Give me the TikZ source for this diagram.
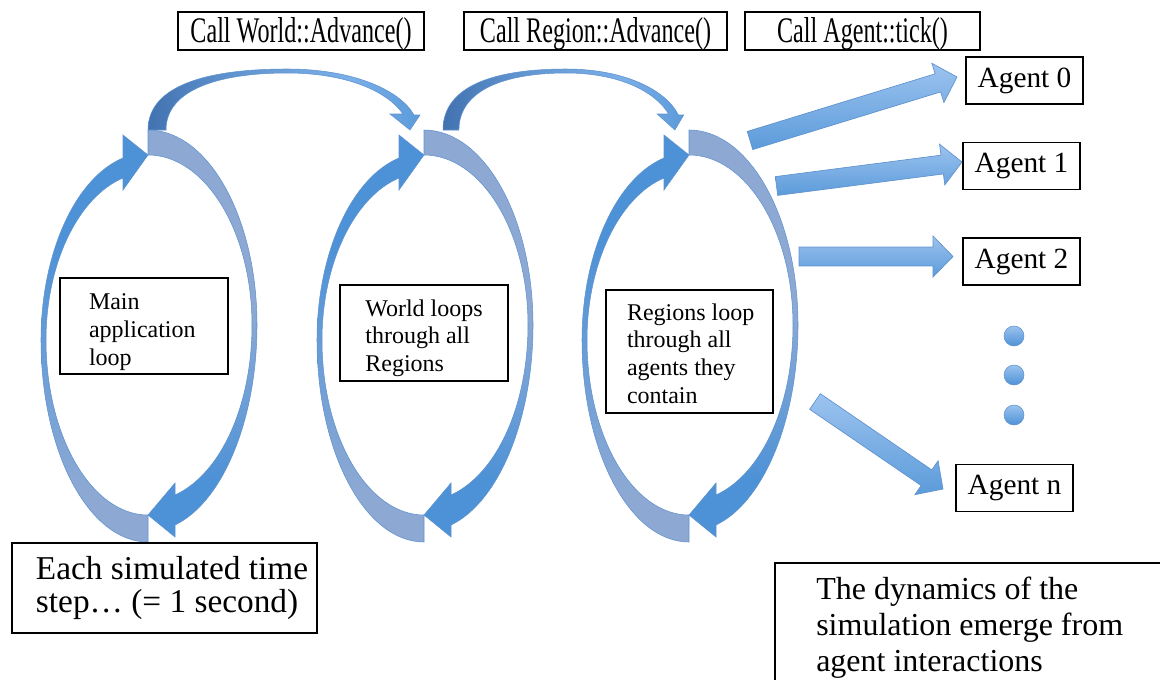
\documentclass[tikz,border=0pt]{standalone}
\usepackage{fontspec}
\usepackage{graphicx}
\setmainfont{Liberation Serif}
\usetikzlibrary{calc}

\definecolor{loopgray}{HTML}{8DA9D3}
\definecolor{loopmid}{HTML}{6E9FD6}
\definecolor{loopblue}{HTML}{4D91D6}
\definecolor{arcdark}{HTML}{4272B0}
\definecolor{arcmid}{HTML}{5F93CF}
\definecolor{arclight}{HTML}{7BAFE8}
\definecolor{archead}{HTML}{5C9BDB}
\definecolor{barrowtop}{HTML}{9CC3EF}
\definecolor{barrowbot}{HTML}{5C9BDA}
\definecolor{shapeline}{HTML}{5F92CE}

% left half of a loop: grey tail at the bottom, blue head at the top
\pgfdeclareverticalshading{loopleftshade}{100bp}{color(0bp)=(loopgray); color(25bp)=(loopgray); color(31bp)=(loopgray); color(46bp)=(loopmid); color(62bp)=(loopblue); color(100bp)=(loopblue)}
% right half of a loop: grey tail at the top, blue head at the bottom
\pgfdeclareverticalshading{looprightshade}{100bp}{color(0bp)=(loopblue); color(25bp)=(loopblue); color(32bp)=(loopblue); color(42bp)=(loopmid); color(53bp)=(loopgray); color(75bp)=(loopgray); color(100bp)=(loopgray)}
% arc that hops from one loop to the next
\pgfdeclarehorizontalshading{arcshade}{100bp}{color(0bp)=(arcdark); color(25bp)=(arcdark); color(40bp)=(arcmid); color(62bp)=(arclight); color(75bp)=(archead); color(100bp)=(archead)}

% a paragraph of fixed width whose lines start after an indent
\newcommand\indentedtext[3]{\parbox{#1}{\leftskip=#2\rightskip=0pt plus 1fil\parfillskip=0pt plus 1fil\relax #3}}
% move text down without changing the size it reports
\newcommand\lowered[2]{\raisebox{-#1}[\height][\depth]{#2}}

\tikzset{
  frame/.style={draw=black, line width=0.9pt, rectangle, inner sep=0pt},
  calllabel/.style={frame, minimum height=28.5pt, font=\fontsize{27}{27}\selectfont},
  agentbox/.style={frame, minimum width=87.75pt, minimum height=35.25pt, font=\fontsize{22}{26}\selectfont},
  loopbox/.style={frame, font=\fontsize{18}{20.8}\selectfont},
  notebox/.style={align=left, inner sep=0pt, font=\fontsize{24}{27}\selectfont},
  loopl/.style={shading=loopleftshade, draw=shapeline, line width=0.4pt},
  loopr/.style={shading=looprightshade, draw=shapeline, line width=0.4pt},
  arcarrow/.style={shading=arcshade, draw=shapeline, line width=0.4pt},
  barrow/.style={top color=barrowtop, bottom color=barrowbot, draw=shapeline, line width=0.5pt},
  dot/.style={circle, inner sep=0pt, minimum size=15pt, top color=barrowtop, bottom color=loopblue, draw=shapeline, line width=0.4pt},
  looparrows/.pic={
    % rising half, left side
    \path[loopl] (0,387) .. controls (-59,387) and (-107,297) .. (-107,185)
       .. controls (-107,99) and (-73,23) .. (-25,3)
       -- (-25,-20) -- (0,0) -- (-25,35) -- (-25,23)
       .. controls (-70,42) and (-102,109) .. (-102,185)
       .. controls (-102,282) and (-56,360) .. (0,360) -- cycle;
    % falling half, right side
    \path[loopr] (0,-25) .. controls (60,-25) and (109,62) .. (109,170)
       .. controls (109,264) and (75,347) .. (27,370)
       -- (27,382) -- (0,360) -- (27,328) -- (27,340)
       .. controls (73,319) and (104,250) .. (104,170)
       .. controls (104,76) and (57,0) .. (0,0) -- cycle;
  },
  hoparrow/.pic={
    \path[arcarrow] (0,0) .. controls (0,-45) and (60,-61) .. (139,-61)
       .. controls (205,-61) and (252,-40) .. (266,-15)
       -- (272,-15) -- (262,0) -- (242,-16) -- (255,-16)
       .. controls (240,-38) and (200,-57) .. (139,-57)
       .. controls (70,-57) and (18,-40) .. (18,0) -- cycle;
  }
}

% straight block arrow: #1 name, #2 tail, #3 tip
\newcommand\blockarrow[3]{%
  \coordinate (#1-h) at ($(#3)!15pt!(#2)$);
  \path[barrow] ($(#2)!7.1pt!90:(#3)$) -- ($(#1-h)!7.1pt!-90:(#2)$)
    -- ($(#1-h)!15.4pt!-90:(#2)$) -- (#3) -- ($(#1-h)!15.4pt!90:(#2)$)
    -- ($(#1-h)!7.1pt!90:(#2)$) -- ($(#2)!7.1pt!-90:(#3)$) -- cycle;}

\begin{document}
\begin{tikzpicture}[x=0.75pt,y=-0.75pt]
\useasboundingbox (0,0) rectangle (1160,679);
\clip (0,0) rectangle (1160,679);

% call labels
\node[calllabel, minimum width=184.5pt] (cw) at (301,31) {\lowered{2pt}{\scalebox{0.67}[1]{Call World::Advance()}}};
\node[calllabel, minimum width=197.25pt] (cr) at (595.5,31) {\lowered{2pt}{\scalebox{0.67}[1]{Call Region::Advance()}}};
\node[calllabel, minimum width=176.25pt] (ca) at (862.5,31) {\lowered{2pt}{\scalebox{0.67}[1]{Call Agent::tick()}}};

% hops between loops
\coordinate (hop1) at (148,130);
\coordinate (hop2) at (443,130);
\pic at (hop1) {hoparrow};
\pic[xscale=0.885] at (hop2) {hoparrow};

% the three loops
\coordinate (mainloop) at (148,155);
\coordinate (worldloop) at (424,155);
\coordinate (regionloop) at (689,155);
\pic at (mainloop) {looparrows};
\pic at (worldloop) {looparrows};
\pic at (regionloop) {looparrows};

\node[loopbox, minimum width=126pt, minimum height=72pt] (mainbox) at (144,326)
  {\lowered{4.5pt}{\indentedtext{126pt}{21.75pt}{Main\\application\\loop}}};
\node[loopbox, minimum width=126pt, minimum height=72pt] (worldbox) at (424,333)
  {\lowered{3.8pt}{\indentedtext{126pt}{19pt}{World loops\\through all\\Regions}}};
\node[loopbox, minimum width=125.25pt, minimum height=92.25pt] (regionbox) at (689.5,351.5)
  {\lowered{1.5pt}{\indentedtext{125.25pt}{15.75pt}{Regions loop\\through all\\agents they\\contain}}};

% agents
\node[agentbox] (a0) at (1024.5,80.5) {Agent 0};
\node[agentbox] (a1) at (1021.5,166) {Agent 1};
\node[agentbox] (a2) at (1021.5,261.5) {Agent 2};
\node[agentbox] (an) at (1014.5,488) {Agent n};

\node[dot] (d1) at (1014,336) {};
\node[dot] (d2) at (1014,375) {};
\node[dot] (d3) at (1014,415) {};

% ticks sent from the region loop to each agent
\coordinate (t0) at (750,140.5);  \coordinate (p0) at (957,77);
\coordinate (t1) at (776.5,186);  \coordinate (p1) at (962,162);
\coordinate (t2) at (799,256.5);  \coordinate (p2) at (953,256.5);
\coordinate (tn) at (815,401.5);  \coordinate (pn) at (943,489);
\blockarrow{b0}{t0}{p0}
\blockarrow{b1}{t1}{p1}
\blockarrow{b2}{t2}{p2}
\blockarrow{bn}{tn}{pn}

% notes
\node[frame, minimum width=228.75pt, minimum height=67.5pt, font=\fontsize{25}{24.5}\selectfont] (stepbox) at (164.5,588)
  {\indentedtext{228.75pt}{18pt}{Each simulated time\\step… (= 1 second)}};
\node[notebox, anchor=north west] (dyn) at (816,577) {The dynamics of the\\simulation emerge from\\agent interactions};
\draw[line width=0.9pt] (775,700) -- (775,563) -- (1200,563);
\end{tikzpicture}
\end{document}
